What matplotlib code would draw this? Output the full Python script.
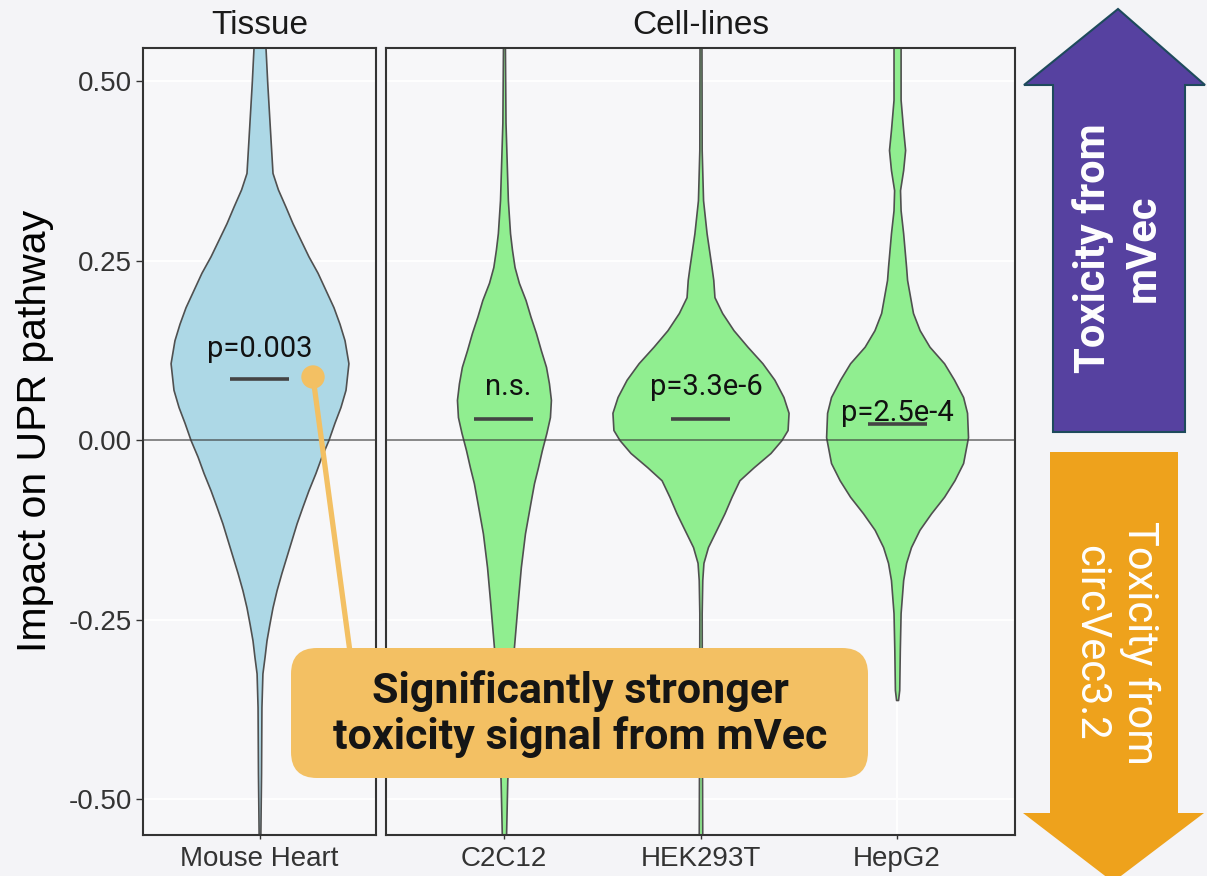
import matplotlib
matplotlib.use("Agg")
import matplotlib.pyplot as plt
from matplotlib.patches import FancyBboxPatch, Polygon, Circle

W, H, DPI = 1207, 876, 100

# ---------------- data ----------------
panel_titles = ["Tissue", "Cell-lines"]
tissue_labels = ["Mouse Heart"]
cell_labels = ["C2C12", "HEK293T", "HepG2"]
y_ticks = [-0.50, -0.25, 0.00, 0.25, 0.50]
y_tick_labels = ["-0.50", "-0.25", "0.00", "0.25", "0.50"]

# violin outlines: value (y) and half width (x units)
mh_y = [0.56, 0.546, 0.497, 0.418, 0.372, 0.349, 0.325, 0.302, 0.279, 0.256, 0.233,
        0.209, 0.185, 0.162, 0.139, 0.107, 0.070, 0.046, 0.024, 0.000, -0.023,
        -0.046, -0.070, -0.093, -0.116, -0.139, -0.162, -0.185, -0.209, -0.233,
        -0.256, -0.279, -0.302, -0.325, -0.372, -0.464, -0.560]
mh_w = [0.031, 0.031, 0.040, 0.057, 0.067, 0.095, 0.134, 0.170, 0.211, 0.252, 0.299,
        0.340, 0.381, 0.412, 0.438, 0.458, 0.443, 0.417, 0.386, 0.355, 0.319,
        0.288, 0.252, 0.221, 0.191, 0.165, 0.139, 0.113, 0.088, 0.067,
        0.051, 0.036, 0.026, 0.015, 0.010, 0.008, 0.004]

c2_y = [0.56, 0.546, 0.442, 0.334, 0.288, 0.265, 0.241, 0.219, 0.195, 0.172, 0.149,
        0.125, 0.102, 0.079, 0.056, 0.032, 0.010, -0.014, -0.038, -0.060, -0.084,
        -0.107, -0.130, -0.177, -0.223, -0.288, -0.362, -0.474, -0.560]
c2_w = [0.005, 0.005, 0.008, 0.020, 0.031, 0.041, 0.054, 0.076, 0.110, 0.135, 0.163,
        0.188, 0.214, 0.229, 0.239, 0.234, 0.216, 0.193, 0.173, 0.153, 0.137,
        0.122, 0.107, 0.086, 0.071, 0.051, 0.036, 0.017, 0.010]

hek_y = [0.56, 0.546, 0.404, 0.334, 0.288, 0.241, 0.223, 0.199, 0.177, 0.153, 0.130,
         0.107, 0.084, 0.060, 0.038, 0.014, 0.000, -0.018, -0.038, -0.056, -0.079,
         -0.102, -0.125, -0.149, -0.171, -0.195, -0.241, -0.400, -0.560]
hek_w = [0.005, 0.005, 0.006, 0.013, 0.031, 0.056, 0.065, 0.071, 0.110, 0.168, 0.239,
         0.315, 0.376, 0.422, 0.448, 0.443, 0.412, 0.356, 0.270, 0.198, 0.158,
         0.122, 0.081, 0.038, 0.015, 0.009, 0.006, 0.007, 0.009]

hep_y = [0.56, 0.546, 0.474, 0.432, 0.404, 0.376, 0.348, 0.320, 0.288, 0.241, 0.223,
         0.177, 0.153, 0.130, 0.107, 0.084, 0.060, 0.038, 0.004, -0.032, -0.056,
         -0.079, -0.102, -0.125, -0.149, -0.171, -0.195, -0.241, -0.292, -0.348,
         -0.362]
hep_w = [0.018, 0.018, 0.018, 0.031, 0.041, 0.031, 0.015, 0.018, 0.031, 0.046, 0.051,
         0.081, 0.115, 0.165, 0.239, 0.290, 0.336, 0.356, 0.361, 0.336, 0.292,
         0.239, 0.173, 0.114, 0.071, 0.046, 0.031, 0.018, 0.014, 0.011,
         0.005]

medians_tissue = [0.085]
medians_cell = [0.029, 0.029, 0.022]
p_tissue = ["p=0.003"]
p_cell = ["n.s.", "p=3.3e-6", "p=2.5e-4"]
p_tissue_y = [0.116]
p_cell_y = [0.063, 0.063, 0.027]
p_cell_x = [1.02, 2.03, 3.0]

box_text = "Significantly stronger\ntoxicity signal from mVec"
up_text = "Toxicity from\nmVec"
down_text = "Toxicity from\ncircVec3.2"

# ---------------- style ----------------
BG = "#F4F4F7"
PANEL = "#F7F7F9"
BLUE = "#ADD8E6"
GREEN = "#90EE90"
EDGE = "#505050"
ORANGE_BOX = "#F3C063"
PURPLE = "#5641A0"
ORANGE_ARR = "#EEA21C"
YLIM = (-0.550, 0.546)

plt.rcParams["font.family"] = ["Liberation Sans", "DejaVu Sans"]

fig = plt.figure(figsize=(W / DPI, H / DPI), dpi=DPI, facecolor=BG)
ax1 = fig.add_axes([143 / W, 1 - 835 / H, 233 / W, 787 / H])
ax2 = fig.add_axes([386 / W, 1 - 835 / H, 629 / W, 787 / H])

def style_axes(ax, ncat, labels, title):
    ax.set_facecolor(PANEL)
    ax.set_xlim(0.4, ncat + 0.6)
    ax.set_ylim(*YLIM)
    ax.set_xticks(range(1, ncat + 1))
    ax.set_xticklabels(labels, fontsize=20, color="#333333")
    ax.set_yticks(y_ticks)
    for yt in y_ticks:
        if yt != 0:
            ax.axhline(yt, color="white", lw=1.3, zorder=0)
    for xt in range(1, ncat + 1):
        ax.axvline(xt, color="white", lw=1.3, zorder=0)
    for s in ax.spines.values():
        s.set_color("#333333")
        s.set_linewidth(1.5)
    ax.tick_params(axis="x", length=3, width=1, color="#333333", pad=5)
    ax.set_title(title, fontsize=24, color="#1A1A1A", pad=10)

style_axes(ax1, 1, tissue_labels, panel_titles[0])
style_axes(ax2, 3, cell_labels, panel_titles[1])
ax1.set_yticklabels(y_tick_labels, fontsize=20, color="#333333")
ax1.tick_params(axis="y", length=5, width=1, color="#333333", pad=3)
ax2.tick_params(axis="y", length=0, labelleft=False)

def violin(ax, pos, ys, ws, color):
    left = [pos - w for w in ws]
    right = [pos + w for w in ws]
    ax.fill_betweenx(ys, left, right, facecolor=color, edgecolor=EDGE,
                     linewidth=1.2, zorder=2)

violin(ax1, 1, mh_y, mh_w, BLUE)
violin(ax2, 1, c2_y, c2_w, GREEN)
violin(ax2, 2, hek_y, hek_w, GREEN)
violin(ax2, 3, hep_y, hep_w, GREEN)

ax1.axhline(0, color="#3A3A3A", lw=1.1, zorder=3, alpha=0.75)
ax2.axhline(0, color="#3A3A3A", lw=1.1, zorder=3, alpha=0.75)

for i, m in enumerate(medians_tissue):
    ax1.plot([i + 1 - 0.15, i + 1 + 0.15], [m, m], color="#444444", lw=2.6,
             solid_capstyle="butt", zorder=4)
for i, m in enumerate(medians_cell):
    ax2.plot([i + 1 - 0.15, i + 1 + 0.15], [m, m], color="#444444", lw=2.6,
             solid_capstyle="butt", zorder=4)

pfont = dict(fontsize=21, family=["Roboto", "DejaVu Sans"], color="#111111",
             ha="center", va="baseline", zorder=5)
for i, t in enumerate(p_tissue):
    ax1.text(i + 1, p_tissue_y[i], t, **pfont)
for i, t in enumerate(p_cell):
    ax2.text(p_cell_x[i], p_cell_y[i], t, **pfont)

fig.text(35 / W, 1 - 431 / H, "Impact on UPR pathway", rotation=90,
         ha="center", va="center", fontsize=29.5, color="black")

# ---------------- overlay (pixel coordinates) ----------------
ov = fig.add_axes([0, 0, 1, 1], zorder=10)
ov.set_xlim(0, W)
ov.set_ylim(H, 0)
ov.axis("off")

ov.plot([313, 350], [377, 652], color=ORANGE_BOX, lw=3.8, solid_capstyle="round")
ov.add_patch(Circle((313, 377), 11, color=ORANGE_BOX))
ov.add_patch(FancyBboxPatch((291, 648), 577, 130,
                            boxstyle="round,pad=0,rounding_size=26",
                            facecolor=ORANGE_BOX, edgecolor="none"))
ov.text(580, 714, box_text, ha="center", va="center", fontsize=31,
        fontweight="bold", family=["Roboto", "DejaVu Sans"], color="#151515",
        linespacing=1.12)

ov.add_patch(Polygon([(1053, 432), (1053, 85), (1024, 85), (1118, 9),
                      (1205, 85), (1185, 85), (1185, 432)],
                     closed=True, facecolor=PURPLE, edgecolor="#1E4A5C", lw=1.5))
ov.add_patch(Polygon([(1050, 452), (1178, 452), (1178, 813), (1204, 813),
                      (1113, 882), (1023, 813), (1050, 813)],
                     closed=True, facecolor=ORANGE_ARR, edgecolor="none"))
ov.text(1118, 248, up_text, rotation=90, ha="center", va="center",
        multialignment="center", fontsize=30, fontweight="bold",
        family=["Roboto", "DejaVu Sans"], color="white", linespacing=1.25)
ov.text(1115, 643, down_text, rotation=-90, ha="center", va="center",
        multialignment="center", fontsize=30, family=["Roboto", "DejaVu Sans"],
        color="white", linespacing=1.25)

fig.savefig("out.png", dpi=DPI, facecolor=BG)
